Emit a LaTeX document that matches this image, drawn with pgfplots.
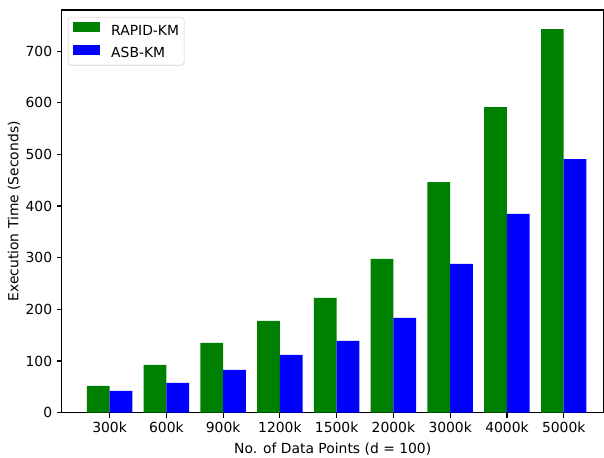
\documentclass[border=0pt]{standalone}
\usepackage{pgfplots}
\pgfplotsset{compat=1.18}
\usepackage{fontspec}
\setmainfont{DejaVu Sans}
\definecolor{mplgreen}{RGB}{0,128,0}
\definecolor{mplblue}{RGB}{0,0,255}
\pgfplotsset{mplbarlegend/.style={legend image code/.code={\fill[##1, sharp corners] (0pt,-0.6pt) rectangle (19.4pt,6.6pt);}}}
\begin{document}
\fontsize{10pt}{12pt}\selectfont
\begin{tikzpicture}
\begin{axis}[
  width=390pt, height=290pt, scale only axis,
  xmin=-0.84, xmax=8.70, ymin=0, ymax=779.5,
  xtick={0,1,2,3,4,5,6,7,8},
  xticklabels={300k,600k,900k,1200k,1500k,2000k,3000k,4000k,5000k},
  ytick={0,100,200,300,400,500,600,700},
  tick align=outside, major tick length=3.5pt,
  tick style={line width=0.8pt, black},
  axis line style={line width=0.8pt},
  xtick pos=bottom, ytick pos=left,
  /pgf/number format/assume math mode=true,
  ticklabel style={font=\fontsize{10pt}{12pt}\selectfont},
  label style={font=\fontsize{10pt}{12pt}\selectfont},
  xlabel={No. of Data Points (d = 100)},
  ylabel={Execution Time (Seconds)},
  ylabel shift=-3pt,
  legend style={at={(0,1)}, anchor=north west, xshift=4.3pt, yshift=-5pt,
    draw=black!20, rounded corners=2pt, inner xsep=3.6pt, inner ysep=3.5pt,
    font=\fontsize{10pt}{12pt}\selectfont, row sep=4.9pt,
    nodes={inner sep=0pt, text height=7.5pt, text depth=2pt},
    /tikz/every odd column/.append style={column sep=8pt}},
  legend cell align=left,
  ybar=0pt, bar width=0.4,
]
\addplot[fill=mplgreen, draw=none, bar shift=-0.2, mplbarlegend] coordinates {
 (0,51.7) (1,92.3) (2,134.9) (3,177.5) (4,222) (5,297.5) (6,446.5) (7,591.5) (8,742.5)};
\addplot[fill=mplblue, draw=none, bar shift=0.2, mplbarlegend] coordinates {
 (0,42) (1,57.5) (2,82.6) (3,111.7) (4,138.8) (5,183.3) (6,287.8) (7,384.6) (8,491)};
\legend{RAPID-KM, ASB-KM}
\coordinate (sw) at (rel axis cs:0,0);
\coordinate (ne) at (rel axis cs:1,1);
\end{axis}
\pgfresetboundingbox
\path[use as bounding box] ([xshift=-44.6pt,yshift=-32.6pt]sw) rectangle ([xshift=0.4pt,yshift=7.2pt]ne);
\end{tikzpicture}
\end{document}
